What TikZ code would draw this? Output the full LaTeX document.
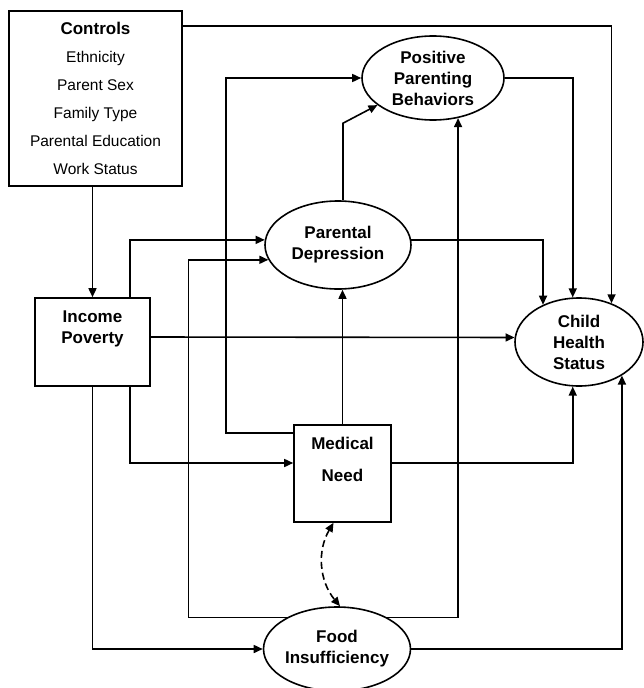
\documentclass[tikz,border=0pt]{standalone}
\usepackage{fontspec}
\setmainfont{Liberation Sans}
\usetikzlibrary{arrows.meta, calc, positioning, shapes.geometric}
\tikzset{>={Triangle[length=9pt,width=8pt]}}

\begin{document}
\begin{tikzpicture}[x=1pt, y=-1pt, line width=1.6pt,
	box/.style={draw, rectangle, inner sep=0pt},
	oval/.style={draw, ellipse, inner sep=0pt, align=center, font=\fontsize{17}{21}\selectfont\bfseries},
	lbl/.style={inner sep=0pt, align=center, font=\fontsize{17}{21}\selectfont\bfseries},
	link/.style={->}]
				\useasboundingbox (0,0) rectangle (643,688);
				\node[box, minimum width=173pt, minimum height=175pt, align=center, font=\fontsize{15.5}{28}\selectfont] (ctrl) at (95.5,98.5) {{\bfseries\fontsize{17}{28}\selectfont Controls}\\Ethnicity\\Parent Sex\\Family Type\\Parental Education\\Work Status};
				\node[box, minimum width=115pt, minimum height=88pt] (inc) at (92.5,342) {};
				\node[lbl, anchor=north] (inctxt) at ($(inc.north)+(0,13)$) {Income\\Poverty};
				\node[box, minimum width=97pt, minimum height=97pt] (mn) at (342.5,473.5) {};
				\node[lbl, anchor=north, font=\fontsize{17}{32}\selectfont\bfseries] (mntxt) at ($(mn.north)+(0,12)$) {Medical\\Need};
				\node[oval, minimum width=142pt, minimum height=84pt] (ppb) at (433,78) {Positive\\Parenting\\Behaviors};
				\node[oval, minimum width=146pt, minimum height=88pt] (pd) at (338,245) {Parental\\Depression};
				\node[oval, minimum width=128pt, minimum height=88pt] (chs) at (579,342) {Child\\Health\\Status};
				\node[oval, minimum width=144pt, minimum height=84pt] (food) at (337,649) {Food\\Insufficiency};
				\draw[link] (inc.north |- ctrl.south) -- (inc.north);
				\draw[link] ($(ctrl.north east)+(0,16)$) -| (chs.50);
				\draw[link] ($(inc.north)+(37.5,0)$) |- (pd.176);
				\draw[link] ($(inc.east)+(0,-5)$) -- (chs.176);
				\draw[link] ($(inc.south)+(37.5,0)$) |- ($(mn.west)+(0,-10.5)$);
				\draw[link] (inc.south) |- (food.west);
				\draw[link] (mn.north) -- (mn.north |- pd.south);
				\draw[link] ($(mn.north west)+(0,9)$) -- ++(-67,0) |- (ppb.west);
				\draw[link] ($(mn.east)+(0,-10.5)$) -| (chs.262);
				\draw[link] ($(pd.north)+(5,0)$) -- ++(0,-77) -- (ppb.206);
				\draw[link] (pd.4) -| (chs.134);
				\draw[link] (ppb.east) -| (chs.98);
				\draw[link] (food.east) -| (chs.-38);
				\draw[link] (food.148) -| ($(pd.192)+(-80,0)$) -- (pd.192);
				\draw[link] (food.32) -| (ppb.302);
				\draw[<->, dash pattern=on 7pt off 4pt] ($(mn.south)+(-9,0)$) to[bend right=35] ($(food.north)+(3,0)$);
			\end{tikzpicture}
\end{document}
